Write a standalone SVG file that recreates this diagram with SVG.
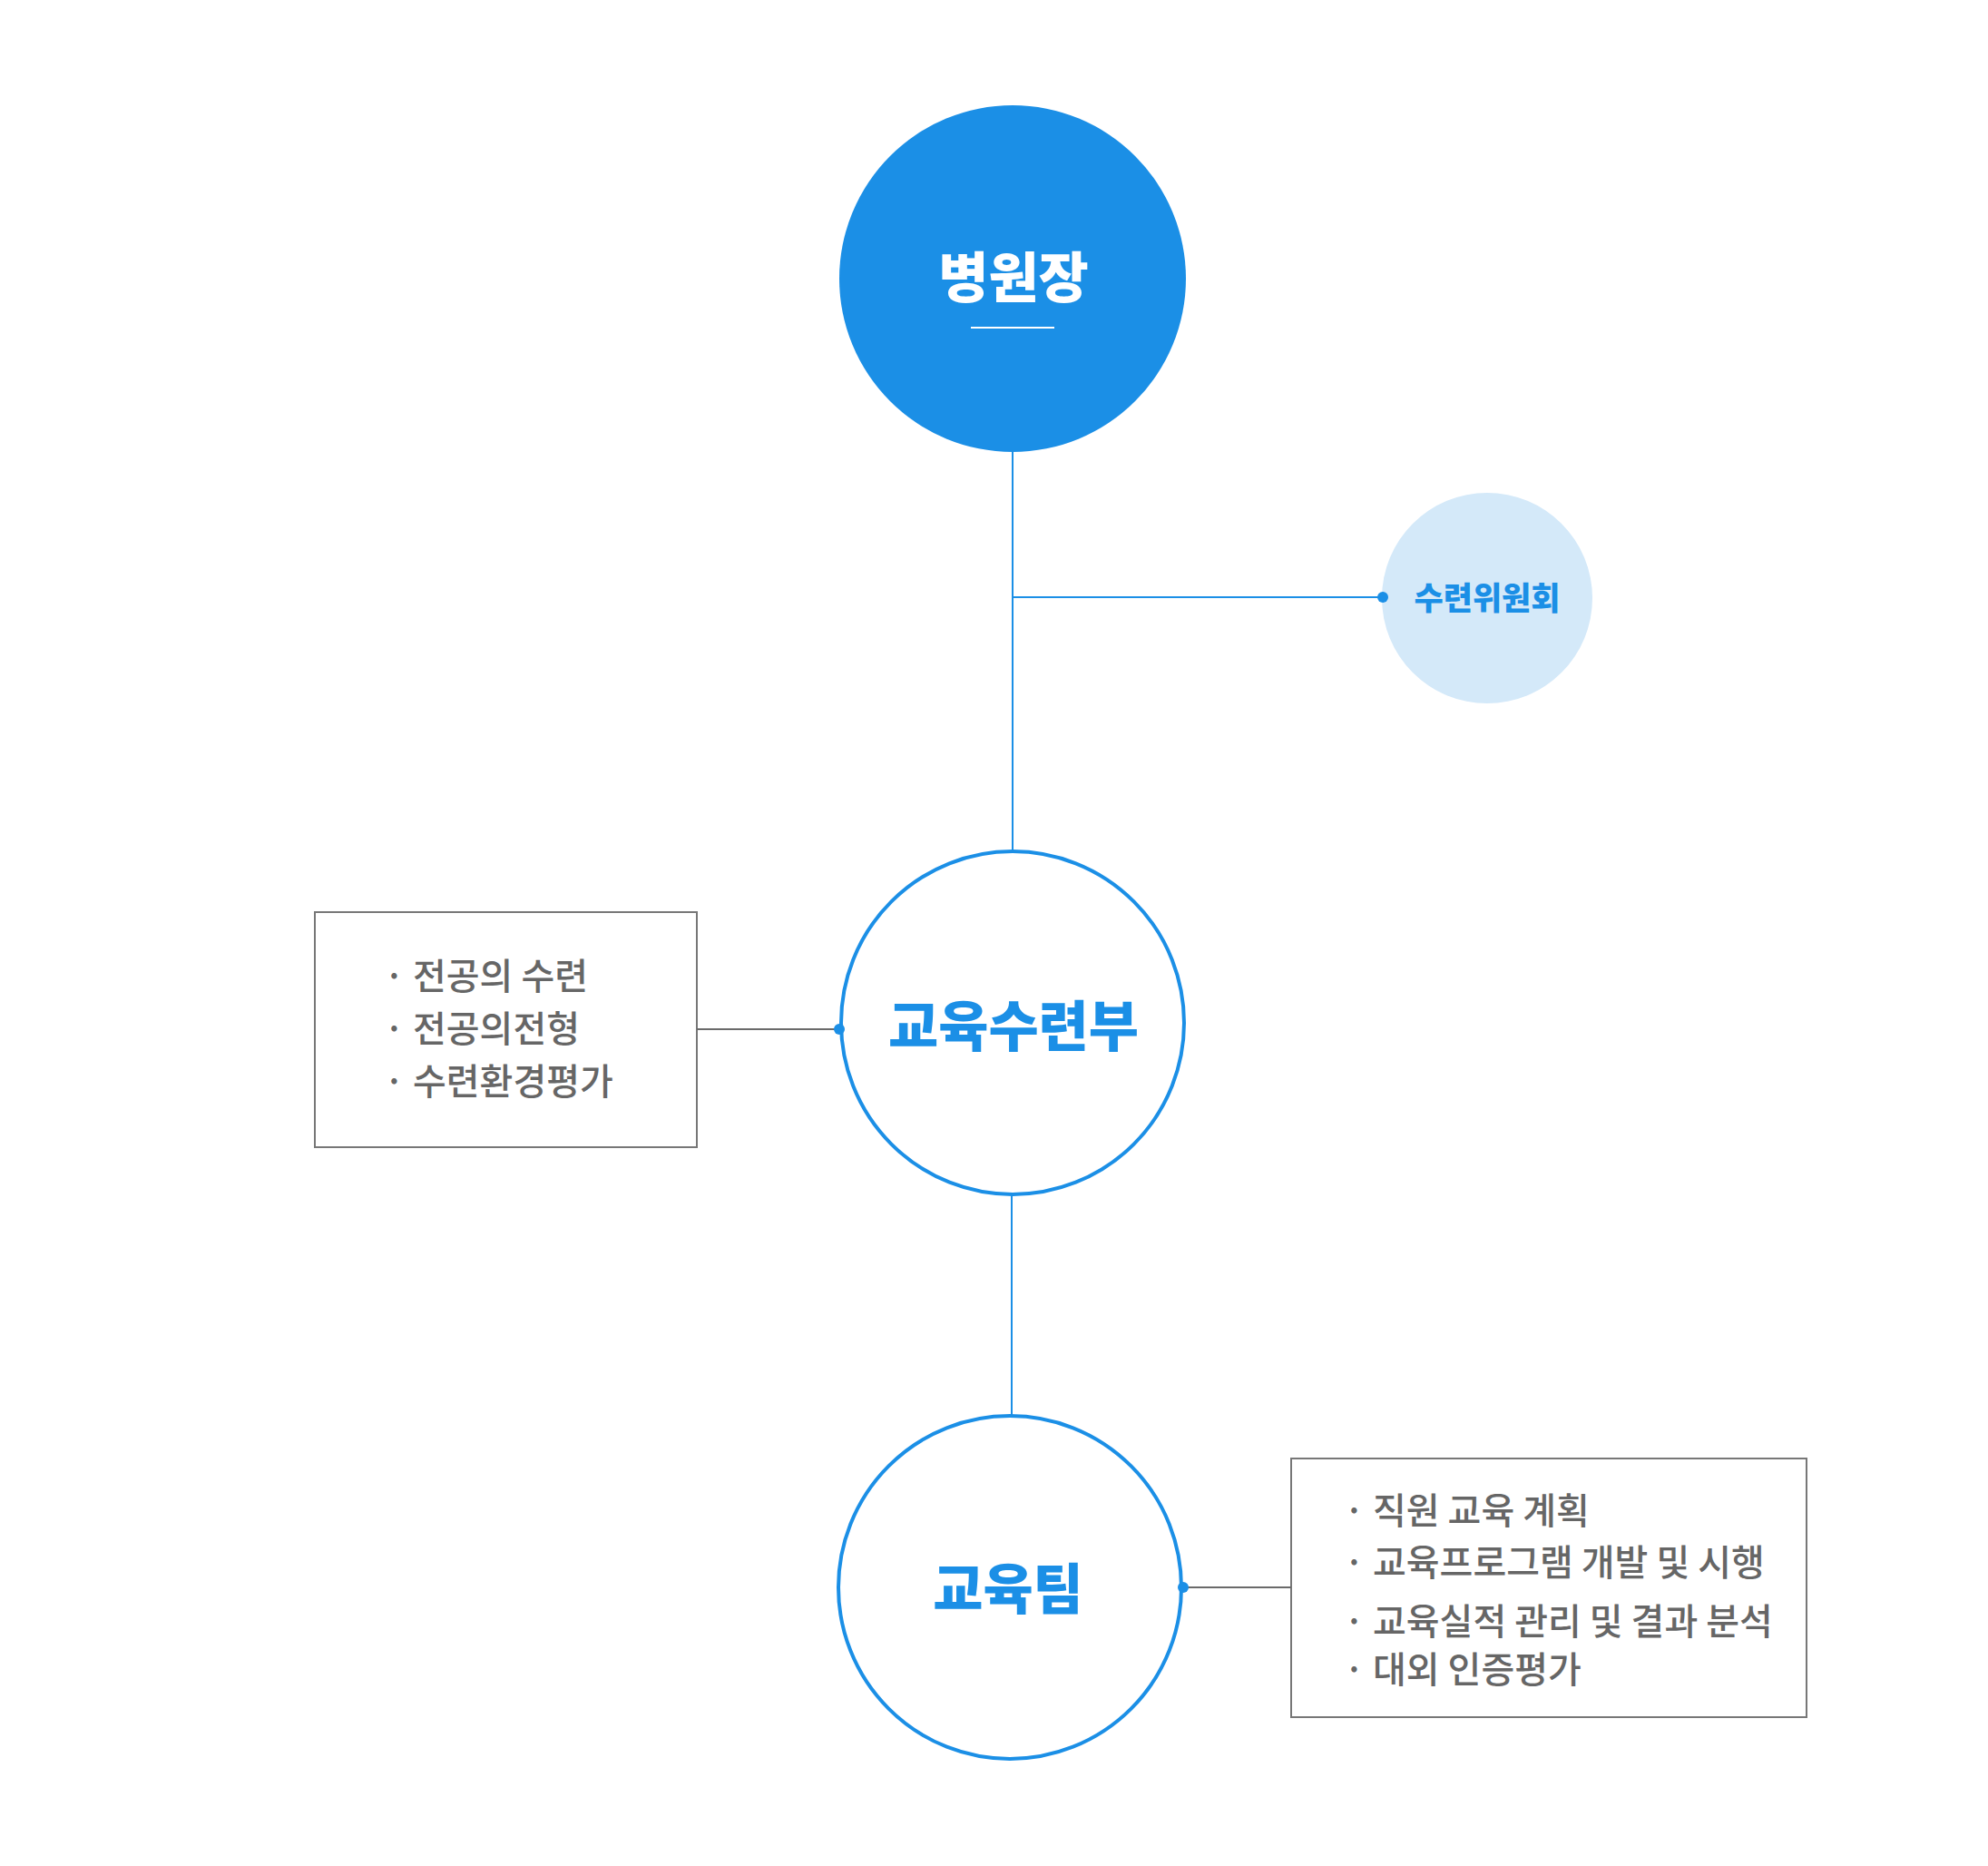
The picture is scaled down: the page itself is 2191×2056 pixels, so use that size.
<svg xmlns="http://www.w3.org/2000/svg" width="2191" height="2056" viewBox="0 0 2191 2056">
<style>
.bg{fill:#ffffff}
.blueline{stroke:#1b8fe6;stroke-width:2;fill:none}
.grayline{stroke:#6a6a6a;stroke-width:2;fill:none}
.dot{fill:#1b8fe6}
.ring{fill:#ffffff;stroke:#1b8fe6;stroke-width:4}
.box{fill:#ffffff;stroke:#777777;stroke-width:2}
.title{font-family:"Noto Sans CJK KR","Noto Sans",sans-serif;font-weight:900;text-anchor:middle}
.item{font-family:"Noto Sans CJK KR","Noto Sans",sans-serif;font-size:40px;font-weight:500;fill:#666666}
</style>
<rect class="bg" x="0" y="0" width="2191" height="2056"/>
<g id="node-director">
  <circle cx="1116" cy="307" r="191" fill="#1b8fe6"/>
  <text class="title" x="1117" y="328" font-size="60" fill="#ffffff">병원장</text>
  <line x1="1070" y1="361" x2="1162" y2="361" stroke="#ffffff" stroke-width="2"/>
</g>
<g id="node-committee">
  <circle cx="1639" cy="659" r="116" fill="#d4e9f9"/>
  <text class="title" x="1639" y="672" font-size="35" fill="#1b8fe6">수련위원회</text>
</g>
<g id="node-dept">
  <circle class="ring" cx="1116" cy="1127" r="189"/>
  <text class="title" x="1117" y="1153" font-size="60" fill="#1b8fe6">교육수련부</text>
</g>
<g id="node-dept-duties">
  <rect class="box" x="347" y="1005" width="421" height="259"/>
  <text class="item" y="1090"><tspan x="423">·</tspan><tspan x="455">전공의 수련</tspan></text>
  <text class="item" y="1148"><tspan x="423">·</tspan><tspan x="455">전공의전형</tspan></text>
  <text class="item" y="1206"><tspan x="423">·</tspan><tspan x="455">수련환경평가</tspan></text>
</g>
<g id="node-team">
  <circle class="ring" cx="1113" cy="1749" r="189"/>
  <text class="title" x="1111" y="1773" font-size="60" fill="#1b8fe6">교육팀</text>
</g>
<g id="node-team-duties">
  <rect class="box" x="1423" y="1607" width="568" height="285"/>
  <text class="item" y="1679"><tspan x="1481">·</tspan><tspan x="1513">직원 교육 계획</tspan></text>
  <text class="item" y="1736"><tspan x="1481">·</tspan><tspan x="1513">교육프로그램 개발 및 시행</tspan></text>
  <text class="item" y="1801"><tspan x="1481">·</tspan><tspan x="1513">교육실적 관리 및 결과 분석</tspan></text>
  <text class="item" y="1854"><tspan x="1481">·</tspan><tspan x="1513">대외 인증평가</tspan></text>
</g>
<g id="connectors">
  <line class="blueline" x1="1116" y1="498" x2="1116" y2="938"/>
  <line class="blueline" x1="1116" y1="658" x2="1524" y2="658"/>
  <circle class="dot" cx="1524" cy="658" r="6"/>
  <line class="blueline" x1="1115" y1="1316" x2="1115" y2="1560"/>
  <line class="grayline" x1="768" y1="1134" x2="925" y2="1134"/>
  <circle class="dot" cx="925" cy="1134" r="6"/>
  <line class="grayline" x1="1304" y1="1749" x2="1423" y2="1749"/>
  <circle class="dot" cx="1304" cy="1749" r="6"/>
</g>
</svg>
